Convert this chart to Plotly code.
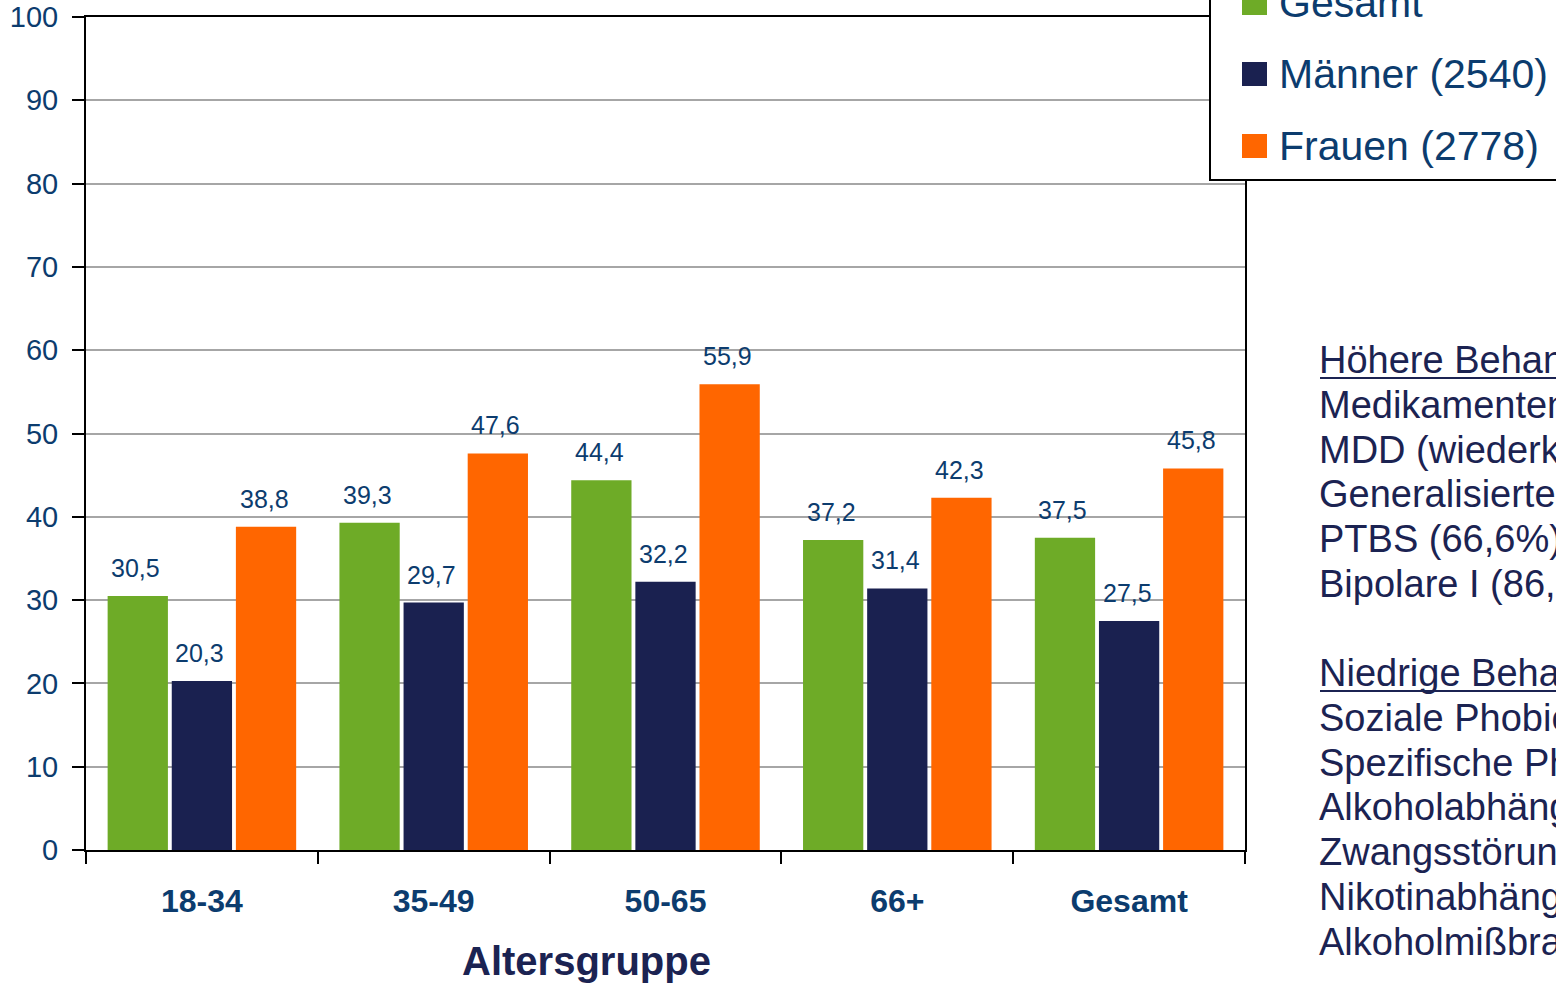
import plotly.graph_objects as go

# Altersgruppen und Anteile (%) je Gruppe
categories = ["18-34", "35-49", "50-65", "66+", "Gesamt"]
series_names = ["Gesamt", "Männer (2540)", "Frauen (2778)"]
gesamt = [30.5, 39.3, 44.4, 37.2, 37.5]
maenner = [20.3, 29.7, 32.2, 31.4, 27.5]
frauen = [38.8, 47.6, 55.9, 42.3, 45.8]
y_ticks = [0, 10, 20, 30, 40, 50, 60, 70, 80, 90, 100]

hoehere = ["Höhere Behandlungsrate", "Medikamentenabhängigkeit", "MDD (wiederkehrend)",
           "Generalisierte Angststörung", "PTBS (66,6%)", "Bipolare I (86,"]
niedrige = ["Niedrige Behandlungsrate", "Soziale Phobie", "Spezifische Phobie",
            "Alkoholabhängigkeit", "Zwangsstörung", "Nikotinabhängigkeit", "Alkoholmißbrauch"]

colors = ["#6eab27", "#1a2150", "#ff6600"]
LABEL_BLUE = "#0c3c6e"
NAVY = "#1b2352"
FONT = "Liberation Sans, Arial, sans-serif"

W, H = 1556, 983
L, R, T, B = 86, 1245, 17, 850  # plot area in pixels


def px(x):
    return (x - L) / (R - L)


def py(y):
    return (B - y) / (B - T)


fig = go.Figure()
all_series = [gesamt, maenner, frauen]
for name, vals, col in zip(series_names, all_series, colors):
    fig.add_trace(go.Bar(
        x=categories, y=vals, name=name, marker_color=col,
        marker_line_width=0, showlegend=False,
    ))

# value labels above each bar
slot = (R - L) / len(categories) * (1 - 0.17) / 3
annotations = []
for i, vals in enumerate(all_series):
    for cat, v in zip(categories, vals):
        annotations.append(dict(
            x=cat, y=v, xref="x", yref="y", text=f"{v:.1f}".replace(".", ","),
            showarrow=False, yanchor="bottom", xshift=(i - 1) * slot - 2, yshift=12,
            font=dict(family=FONT, size=25, color=LABEL_BLUE),
        ))

# axis title
annotations.append(dict(
    x=px(586), y=py(961), xref="paper", yref="paper", text="<b>Altersgruppe</b>",
    showarrow=False, xanchor="center", yanchor="middle",
    font=dict(family=FONT, size=40, color=NAVY),
))

shapes = []
# legend box
shapes.append(dict(type="rect", xref="paper", yref="paper",
                   x0=px(1210), x1=px(1620), y0=py(180), y1=py(-20),
                   fillcolor="white", line=dict(color="black", width=2), layer="above"))
leg_y = [3, 74, 146]
for name, col, yc in zip(series_names, colors, leg_y):
    shapes.append(dict(type="rect", xref="paper", yref="paper",
                       x0=px(1242), x1=px(1267), y0=py(yc + 12), y1=py(yc - 12),
                       fillcolor=col, line=dict(width=0), layer="above"))
    annotations.append(dict(
        x=px(1277), y=py(yc), xref="paper", yref="paper", text=name,
        showarrow=False, xanchor="left", yanchor="middle",
        font=dict(family=FONT, size=41, color=LABEL_BLUE),
    ))

# side notes
for block, y0 in ((hoehere, 360), (niedrige, 673)):
    for k, line in enumerate(block):
        annotations.append(dict(
            x=px(1317), y=py(y0 + k * 44.8), xref="paper", yref="paper", text=line,
            showarrow=False, xanchor="left", yanchor="middle",
            font=dict(family=FONT, size=38, color=NAVY),
        ))
    shapes.append(dict(type="line", xref="paper", yref="paper",
                       x0=px(1320), x1=px(1600), y0=py(y0 + 18), y1=py(y0 + 18),
                       line=dict(color=NAVY, width=2)))

fig.update_layout(
    width=W, height=H,
    margin=dict(l=L, r=W - R, t=T, b=H - B, autoexpand=False),
    paper_bgcolor="white", plot_bgcolor="white",
    barmode="group", bargap=0.17, bargroupgap=0.06,
    annotations=annotations, shapes=shapes,
    font=dict(family=FONT),
)
fig.update_yaxes(
    range=[0, 100], tickvals=y_ticks, ticks="outside", ticklen=12, tickwidth=2,
    tickcolor="black", showline=True, linecolor="black", linewidth=2, mirror=True,
    showgrid=True, gridcolor="#a6a6a6", gridwidth=2, zeroline=False,
    tickfont=dict(family=FONT, size=29, color=LABEL_BLUE), ticklabelstandoff=8,
)
fig.update_xaxes(
    ticks="outside", ticklen=12, tickwidth=2, tickcolor="black", tickson="boundaries",
    showline=True, linecolor="black", linewidth=2, mirror=True,
    tickfont=dict(family=FONT, size=32, color=LABEL_BLUE), ticklabelstandoff=22,
    tickprefix="<b>", ticksuffix="</b>",
)

fig.write_html("out.html")
